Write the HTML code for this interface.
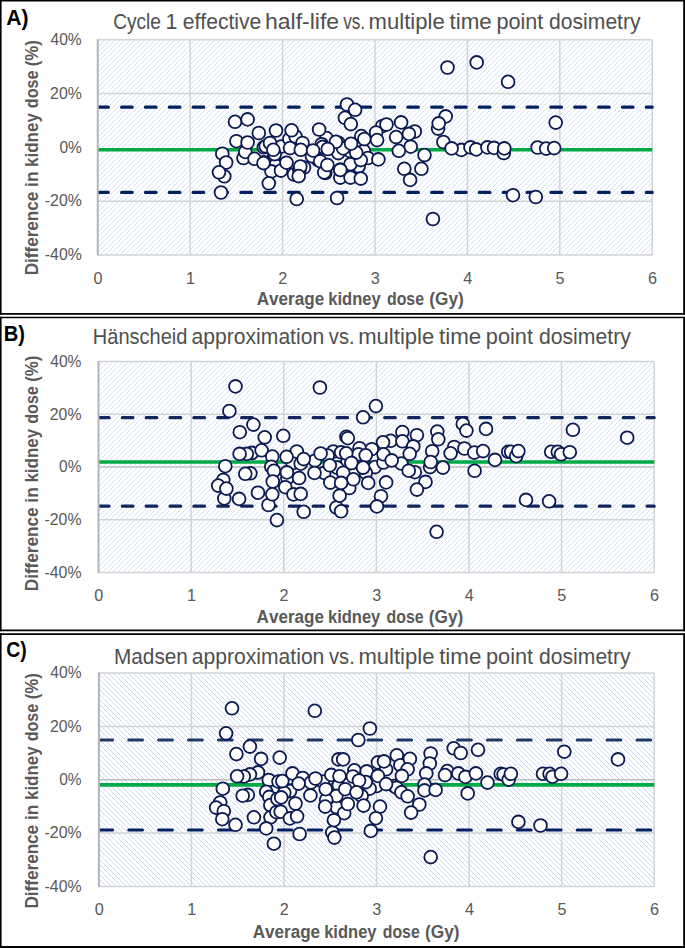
<!DOCTYPE html><html><head><meta charset="utf-8"><style>html,body{margin:0;padding:0;background:#fff;}svg{display:block;}</style></head><body>
<svg width="685" height="948" viewBox="0 0 685 948">
<defs>
<pattern id="hatchUp" patternUnits="userSpaceOnUse" width="5" height="5"><path d="M-1,1 L1,-1 M0,5 L5,0 M4,6 L6,4" stroke="#d3e2f5" stroke-width="1"/></pattern>
<pattern id="hatchDown" patternUnits="userSpaceOnUse" width="5" height="5"><path d="M-1,4 L1,6 M0,0 L5,5 M4,-1 L6,1" stroke="#ccdaf2" stroke-width="1"/></pattern>
</defs>
<rect x="0" y="0" width="685" height="948" fill="#fff"/>
<rect x="97.75" y="39.75" width="554.5" height="215.25" fill="url(#hatchUp)"/>
<line x1="97.75" y1="39.75" x2="652.25" y2="39.75" stroke="#d3d3d3" stroke-width="1.5"/>
<line x1="97.75" y1="93.56" x2="652.25" y2="93.56" stroke="#d3d3d3" stroke-width="1.5"/>
<line x1="97.75" y1="201.19" x2="652.25" y2="201.19" stroke="#d3d3d3" stroke-width="1.5"/>
<line x1="97.75" y1="255" x2="652.25" y2="255" stroke="#d3d3d3" stroke-width="1.5"/>
<line x1="190.17" y1="39.75" x2="190.17" y2="255" stroke="#d3d3d3" stroke-width="1.5"/>
<line x1="282.58" y1="39.75" x2="282.58" y2="255" stroke="#d3d3d3" stroke-width="1.5"/>
<line x1="375" y1="39.75" x2="375" y2="255" stroke="#d3d3d3" stroke-width="1.5"/>
<line x1="467.42" y1="39.75" x2="467.42" y2="255" stroke="#d3d3d3" stroke-width="1.5"/>
<line x1="559.83" y1="39.75" x2="559.83" y2="255" stroke="#d3d3d3" stroke-width="1.5"/>
<line x1="652.25" y1="39.75" x2="652.25" y2="255" stroke="#d3d3d3" stroke-width="1.5"/>
<line x1="97.75" y1="149.1" x2="652.25" y2="149.1" stroke="#bfbfbf" stroke-width="1.6"/>
<clipPath id="clipA"><rect x="97.35" y="19.75" width="557" height="255.25"/></clipPath>
<g clip-path="url(#clipA)">
<line x1="97.75" y1="107.2" x2="652.25" y2="107.2" stroke="#002060" stroke-width="3.2" stroke-dasharray="10.6 13.25" stroke-linecap="round"/>
<line x1="97.75" y1="192.4" x2="652.25" y2="192.4" stroke="#002060" stroke-width="3.2" stroke-dasharray="10.6 13.25" stroke-linecap="round"/>
<line x1="97.75" y1="149.7" x2="652.25" y2="149.7" stroke="#00ab47" stroke-width="3.6"/>
</g>
<line x1="97.75" y1="39.25" x2="97.75" y2="255.5" stroke="#b5b5b5" stroke-width="2"/>
<circle cx="243.5" cy="158" r="6.4" fill="#fff" stroke="#0b1a52" stroke-width="1.8"/>
<circle cx="245.3" cy="151.9" r="6.4" fill="#fff" stroke="#0b1a52" stroke-width="1.8"/>
<circle cx="281.3" cy="146.5" r="6.4" fill="#fff" stroke="#0b1a52" stroke-width="1.8"/>
<circle cx="273.7" cy="157.8" r="6.4" fill="#fff" stroke="#0b1a52" stroke-width="1.8"/>
<circle cx="263.8" cy="147.3" r="6.4" fill="#fff" stroke="#0b1a52" stroke-width="1.8"/>
<circle cx="265.7" cy="146.3" r="6.4" fill="#fff" stroke="#0b1a52" stroke-width="1.8"/>
<circle cx="224.3" cy="176.3" r="6.4" fill="#fff" stroke="#0b1a52" stroke-width="1.8"/>
<circle cx="221" cy="192.5" r="6.4" fill="#fff" stroke="#0b1a52" stroke-width="1.8"/>
<circle cx="275.3" cy="165.5" r="6.4" fill="#fff" stroke="#0b1a52" stroke-width="1.8"/>
<circle cx="271.5" cy="171.4" r="6.4" fill="#fff" stroke="#0b1a52" stroke-width="1.8"/>
<circle cx="289.4" cy="139" r="6.4" fill="#fff" stroke="#0b1a52" stroke-width="1.8"/>
<circle cx="295.5" cy="136.5" r="6.4" fill="#fff" stroke="#0b1a52" stroke-width="1.8"/>
<circle cx="302.5" cy="143" r="6.4" fill="#fff" stroke="#0b1a52" stroke-width="1.8"/>
<circle cx="326.5" cy="138.1" r="6.4" fill="#fff" stroke="#0b1a52" stroke-width="1.8"/>
<circle cx="321.7" cy="144.2" r="6.4" fill="#fff" stroke="#0b1a52" stroke-width="1.8"/>
<circle cx="304" cy="167.5" r="6.4" fill="#fff" stroke="#0b1a52" stroke-width="1.8"/>
<circle cx="318.1" cy="160.1" r="6.4" fill="#fff" stroke="#0b1a52" stroke-width="1.8"/>
<circle cx="312" cy="156.2" r="6.4" fill="#fff" stroke="#0b1a52" stroke-width="1.8"/>
<circle cx="296.7" cy="199" r="6.4" fill="#fff" stroke="#0b1a52" stroke-width="1.8"/>
<circle cx="281" cy="170.6" r="6.4" fill="#fff" stroke="#0b1a52" stroke-width="1.8"/>
<circle cx="294" cy="174.5" r="6.4" fill="#fff" stroke="#0b1a52" stroke-width="1.8"/>
<circle cx="325.3" cy="173" r="6.4" fill="#fff" stroke="#0b1a52" stroke-width="1.8"/>
<circle cx="320.2" cy="161.2" r="6.4" fill="#fff" stroke="#0b1a52" stroke-width="1.8"/>
<circle cx="349.5" cy="168.9" r="6.4" fill="#fff" stroke="#0b1a52" stroke-width="1.8"/>
<circle cx="340.3" cy="177.6" r="6.4" fill="#fff" stroke="#0b1a52" stroke-width="1.8"/>
<circle cx="350.5" cy="177.6" r="6.4" fill="#fff" stroke="#0b1a52" stroke-width="1.8"/>
<circle cx="358.7" cy="166.3" r="6.4" fill="#fff" stroke="#0b1a52" stroke-width="1.8"/>
<circle cx="347" cy="104.5" r="6.4" fill="#fff" stroke="#0b1a52" stroke-width="1.8"/>
<circle cx="355.1" cy="109.8" r="6.4" fill="#fff" stroke="#0b1a52" stroke-width="1.8"/>
<circle cx="344.9" cy="117.8" r="6.4" fill="#fff" stroke="#0b1a52" stroke-width="1.8"/>
<circle cx="382.2" cy="126.2" r="6.4" fill="#fff" stroke="#0b1a52" stroke-width="1.8"/>
<circle cx="361.3" cy="136.1" r="6.4" fill="#fff" stroke="#0b1a52" stroke-width="1.8"/>
<circle cx="376.1" cy="132.5" r="6.4" fill="#fff" stroke="#0b1a52" stroke-width="1.8"/>
<circle cx="337.3" cy="149.9" r="6.4" fill="#fff" stroke="#0b1a52" stroke-width="1.8"/>
<circle cx="338.3" cy="142.7" r="6.4" fill="#fff" stroke="#0b1a52" stroke-width="1.8"/>
<circle cx="349.5" cy="150.9" r="6.4" fill="#fff" stroke="#0b1a52" stroke-width="1.8"/>
<circle cx="363.8" cy="150.9" r="6.4" fill="#fff" stroke="#0b1a52" stroke-width="1.8"/>
<circle cx="367.9" cy="158" r="6.4" fill="#fff" stroke="#0b1a52" stroke-width="1.8"/>
<circle cx="350.5" cy="164.2" r="6.4" fill="#fff" stroke="#0b1a52" stroke-width="1.8"/>
<circle cx="360.8" cy="160.1" r="6.4" fill="#fff" stroke="#0b1a52" stroke-width="1.8"/>
<circle cx="338.3" cy="153.1" r="6.4" fill="#fff" stroke="#0b1a52" stroke-width="1.8"/>
<circle cx="414.8" cy="131.5" r="6.4" fill="#fff" stroke="#0b1a52" stroke-width="1.8"/>
<circle cx="404.3" cy="168.8" r="6.4" fill="#fff" stroke="#0b1a52" stroke-width="1.8"/>
<circle cx="421.4" cy="168.8" r="6.4" fill="#fff" stroke="#0b1a52" stroke-width="1.8"/>
<circle cx="410.1" cy="179.9" r="6.4" fill="#fff" stroke="#0b1a52" stroke-width="1.8"/>
<circle cx="432.9" cy="219" r="6.4" fill="#fff" stroke="#0b1a52" stroke-width="1.8"/>
<circle cx="445.7" cy="116.4" r="6.4" fill="#fff" stroke="#0b1a52" stroke-width="1.8"/>
<circle cx="438.1" cy="128.6" r="6.4" fill="#fff" stroke="#0b1a52" stroke-width="1.8"/>
<circle cx="461.4" cy="149.9" r="6.4" fill="#fff" stroke="#0b1a52" stroke-width="1.8"/>
<circle cx="470.5" cy="147.4" r="6.4" fill="#fff" stroke="#0b1a52" stroke-width="1.8"/>
<circle cx="476.2" cy="149.4" r="6.4" fill="#fff" stroke="#0b1a52" stroke-width="1.8"/>
<circle cx="487.4" cy="147.4" r="6.4" fill="#fff" stroke="#0b1a52" stroke-width="1.8"/>
<circle cx="494" cy="147.9" r="6.4" fill="#fff" stroke="#0b1a52" stroke-width="1.8"/>
<circle cx="503.8" cy="153" r="6.4" fill="#fff" stroke="#0b1a52" stroke-width="1.8"/>
<circle cx="504.3" cy="148.4" r="6.4" fill="#fff" stroke="#0b1a52" stroke-width="1.8"/>
<circle cx="537.6" cy="147.5" r="6.4" fill="#fff" stroke="#0b1a52" stroke-width="1.8"/>
<circle cx="546.2" cy="148.6" r="6.4" fill="#fff" stroke="#0b1a52" stroke-width="1.8"/>
<circle cx="554.2" cy="148.1" r="6.4" fill="#fff" stroke="#0b1a52" stroke-width="1.8"/>
<circle cx="555.7" cy="122.6" r="6.4" fill="#fff" stroke="#0b1a52" stroke-width="1.8"/>
<circle cx="513" cy="195.2" r="6.4" fill="#fff" stroke="#0b1a52" stroke-width="1.8"/>
<circle cx="535.8" cy="197" r="6.4" fill="#fff" stroke="#0b1a52" stroke-width="1.8"/>
<circle cx="447.5" cy="67.5" r="6.4" fill="#fff" stroke="#0b1a52" stroke-width="1.8"/>
<circle cx="476.7" cy="62.4" r="6.4" fill="#fff" stroke="#0b1a52" stroke-width="1.8"/>
<circle cx="508.1" cy="81.8" r="6.4" fill="#fff" stroke="#0b1a52" stroke-width="1.8"/>
<circle cx="343.2" cy="148.4" r="6.4" fill="#fff" stroke="#0b1a52" stroke-width="1.8"/>
<circle cx="335.9" cy="141.8" r="6.4" fill="#fff" stroke="#0b1a52" stroke-width="1.8"/>
<circle cx="322.7" cy="146.9" r="6.4" fill="#fff" stroke="#0b1a52" stroke-width="1.8"/>
<circle cx="299.4" cy="170.3" r="6.4" fill="#fff" stroke="#0b1a52" stroke-width="1.8"/>
<circle cx="324.2" cy="172.4" r="6.4" fill="#fff" stroke="#0b1a52" stroke-width="1.8"/>
<circle cx="274.7" cy="154.1" r="6.4" fill="#fff" stroke="#0b1a52" stroke-width="1.8"/>
<circle cx="300.3" cy="166.5" r="6.4" fill="#fff" stroke="#0b1a52" stroke-width="1.8"/>
<circle cx="235" cy="121.8" r="6.4" fill="#fff" stroke="#0b1a52" stroke-width="1.8"/>
<circle cx="247.6" cy="119.4" r="6.4" fill="#fff" stroke="#0b1a52" stroke-width="1.8"/>
<circle cx="258.8" cy="133" r="6.4" fill="#fff" stroke="#0b1a52" stroke-width="1.8"/>
<circle cx="276" cy="130.5" r="6.4" fill="#fff" stroke="#0b1a52" stroke-width="1.8"/>
<circle cx="236.4" cy="141.2" r="6.4" fill="#fff" stroke="#0b1a52" stroke-width="1.8"/>
<circle cx="247.6" cy="142.5" r="6.4" fill="#fff" stroke="#0b1a52" stroke-width="1.8"/>
<circle cx="222.3" cy="153.7" r="6.4" fill="#fff" stroke="#0b1a52" stroke-width="1.8"/>
<circle cx="226.1" cy="162.5" r="6.4" fill="#fff" stroke="#0b1a52" stroke-width="1.8"/>
<circle cx="263.6" cy="162.4" r="6.4" fill="#fff" stroke="#0b1a52" stroke-width="1.8"/>
<circle cx="254.5" cy="158.8" r="6.4" fill="#fff" stroke="#0b1a52" stroke-width="1.8"/>
<circle cx="270" cy="143" r="6.4" fill="#fff" stroke="#0b1a52" stroke-width="1.8"/>
<circle cx="273.3" cy="149.8" r="6.4" fill="#fff" stroke="#0b1a52" stroke-width="1.8"/>
<circle cx="291.6" cy="130.3" r="6.4" fill="#fff" stroke="#0b1a52" stroke-width="1.8"/>
<circle cx="319.1" cy="129.5" r="6.4" fill="#fff" stroke="#0b1a52" stroke-width="1.8"/>
<circle cx="290" cy="148.1" r="6.4" fill="#fff" stroke="#0b1a52" stroke-width="1.8"/>
<circle cx="300.8" cy="149.8" r="6.4" fill="#fff" stroke="#0b1a52" stroke-width="1.8"/>
<circle cx="313.1" cy="150.5" r="6.4" fill="#fff" stroke="#0b1a52" stroke-width="1.8"/>
<circle cx="327.8" cy="149" r="6.4" fill="#fff" stroke="#0b1a52" stroke-width="1.8"/>
<circle cx="286.5" cy="162.7" r="6.4" fill="#fff" stroke="#0b1a52" stroke-width="1.8"/>
<circle cx="263.5" cy="163.1" r="6.4" fill="#fff" stroke="#0b1a52" stroke-width="1.8"/>
<circle cx="298.7" cy="176.1" r="6.4" fill="#fff" stroke="#0b1a52" stroke-width="1.8"/>
<circle cx="327.4" cy="165" r="6.4" fill="#fff" stroke="#0b1a52" stroke-width="1.8"/>
<circle cx="340.3" cy="169.9" r="6.4" fill="#fff" stroke="#0b1a52" stroke-width="1.8"/>
<circle cx="268.8" cy="183.3" r="6.4" fill="#fff" stroke="#0b1a52" stroke-width="1.8"/>
<circle cx="350.8" cy="124.1" r="6.4" fill="#fff" stroke="#0b1a52" stroke-width="1.8"/>
<circle cx="386.5" cy="124.5" r="6.4" fill="#fff" stroke="#0b1a52" stroke-width="1.8"/>
<circle cx="364.3" cy="139.1" r="6.4" fill="#fff" stroke="#0b1a52" stroke-width="1.8"/>
<circle cx="377.1" cy="140.1" r="6.4" fill="#fff" stroke="#0b1a52" stroke-width="1.8"/>
<circle cx="356.2" cy="152.6" r="6.4" fill="#fff" stroke="#0b1a52" stroke-width="1.8"/>
<circle cx="378.4" cy="159.4" r="6.4" fill="#fff" stroke="#0b1a52" stroke-width="1.8"/>
<circle cx="351.1" cy="143.7" r="6.4" fill="#fff" stroke="#0b1a52" stroke-width="1.8"/>
<circle cx="337.1" cy="198" r="6.4" fill="#fff" stroke="#0b1a52" stroke-width="1.8"/>
<circle cx="340.3" cy="169.9" r="6.4" fill="#fff" stroke="#0b1a52" stroke-width="1.8"/>
<circle cx="360.8" cy="178.6" r="6.4" fill="#fff" stroke="#0b1a52" stroke-width="1.8"/>
<circle cx="401.1" cy="122.4" r="6.4" fill="#fff" stroke="#0b1a52" stroke-width="1.8"/>
<circle cx="408.9" cy="133.9" r="6.4" fill="#fff" stroke="#0b1a52" stroke-width="1.8"/>
<circle cx="396.1" cy="137.1" r="6.4" fill="#fff" stroke="#0b1a52" stroke-width="1.8"/>
<circle cx="410.7" cy="146.7" r="6.4" fill="#fff" stroke="#0b1a52" stroke-width="1.8"/>
<circle cx="398.8" cy="150.8" r="6.4" fill="#fff" stroke="#0b1a52" stroke-width="1.8"/>
<circle cx="424.5" cy="155.1" r="6.4" fill="#fff" stroke="#0b1a52" stroke-width="1.8"/>
<circle cx="438.7" cy="123.4" r="6.4" fill="#fff" stroke="#0b1a52" stroke-width="1.8"/>
<circle cx="443.4" cy="142" r="6.4" fill="#fff" stroke="#0b1a52" stroke-width="1.8"/>
<circle cx="451.6" cy="148.4" r="6.4" fill="#fff" stroke="#0b1a52" stroke-width="1.8"/>
<circle cx="219" cy="172.3" r="6.4" fill="#fff" stroke="#0b1a52" stroke-width="1.8"/>
<text x="50.54" y="45.05" font-family='"Liberation Sans", sans-serif' font-size="16.2" fill="#595959" textLength="31.21" lengthAdjust="spacingAndGlyphs" style="font-kerning:none">40%</text>
<text x="50.1" y="98.86" font-family='"Liberation Sans", sans-serif' font-size="16.2" fill="#595959" textLength="31.66" lengthAdjust="spacingAndGlyphs" style="font-kerning:none">20%</text>
<text x="59.4" y="152.68" font-family='"Liberation Sans", sans-serif' font-size="16.2" fill="#595959" textLength="22.36" lengthAdjust="spacingAndGlyphs" style="font-kerning:none">0%</text>
<text x="44.8" y="206.49" font-family='"Liberation Sans", sans-serif' font-size="16.2" fill="#595959" textLength="36.97" lengthAdjust="spacingAndGlyphs" style="font-kerning:none">-20%</text>
<text x="44.8" y="260.3" font-family='"Liberation Sans", sans-serif' font-size="16.2" fill="#595959" textLength="36.97" lengthAdjust="spacingAndGlyphs" style="font-kerning:none">-40%</text>
<text x="98.05" y="283.6" font-family='"Liberation Sans", sans-serif' font-size="16.2" fill="#595959" text-anchor="middle" style="font-kerning:none">0</text>
<text x="190.47" y="283.6" font-family='"Liberation Sans", sans-serif' font-size="16.2" fill="#595959" text-anchor="middle" style="font-kerning:none">1</text>
<text x="282.88" y="283.6" font-family='"Liberation Sans", sans-serif' font-size="16.2" fill="#595959" text-anchor="middle" style="font-kerning:none">2</text>
<text x="375.3" y="283.6" font-family='"Liberation Sans", sans-serif' font-size="16.2" fill="#595959" text-anchor="middle" style="font-kerning:none">3</text>
<text x="467.72" y="283.6" font-family='"Liberation Sans", sans-serif' font-size="16.2" fill="#595959" text-anchor="middle" style="font-kerning:none">4</text>
<text x="560.13" y="283.6" font-family='"Liberation Sans", sans-serif' font-size="16.2" fill="#595959" text-anchor="middle" style="font-kerning:none">5</text>
<text x="652.55" y="283.6" font-family='"Liberation Sans", sans-serif' font-size="16.2" fill="#595959" text-anchor="middle" style="font-kerning:none">6</text>
<text x="113.13" y="28.6" font-family='"Liberation Sans", sans-serif' font-size="21.4" fill="#4f4f4f" textLength="47.82" lengthAdjust="spacingAndGlyphs" style="font-kerning:none">Cycle</text>
<text x="165.57" y="28.6" font-family='"Liberation Sans", sans-serif' font-size="21.4" fill="#4f4f4f" textLength="11.87" lengthAdjust="spacingAndGlyphs" style="font-kerning:none">1</text>
<text x="182.7" y="28.6" font-family='"Liberation Sans", sans-serif' font-size="21.4" fill="#4f4f4f" textLength="78.64" lengthAdjust="spacingAndGlyphs" style="font-kerning:none">effective</text>
<text x="265.01" y="28.6" font-family='"Liberation Sans", sans-serif' font-size="21.4" fill="#4f4f4f" textLength="74.12" lengthAdjust="spacingAndGlyphs" style="font-kerning:none">half-life</text>
<text x="343.14" y="28.6" font-family='"Liberation Sans", sans-serif' font-size="21.4" fill="#4f4f4f" textLength="22.03" lengthAdjust="spacingAndGlyphs" style="font-kerning:none">vs.</text>
<text x="368.63" y="28.6" font-family='"Liberation Sans", sans-serif' font-size="21.4" fill="#4f4f4f" textLength="76.05" lengthAdjust="spacingAndGlyphs" style="font-kerning:none">multiple</text>
<text x="449.56" y="28.6" font-family='"Liberation Sans", sans-serif' font-size="21.4" fill="#4f4f4f" textLength="42.23" lengthAdjust="spacingAndGlyphs" style="font-kerning:none">time</text>
<text x="496.4" y="28.6" font-family='"Liberation Sans", sans-serif' font-size="21.4" fill="#4f4f4f" textLength="46.95" lengthAdjust="spacingAndGlyphs" style="font-kerning:none">point</text>
<text x="549.11" y="28.6" font-family='"Liberation Sans", sans-serif' font-size="21.4" fill="#4f4f4f" textLength="91.43" lengthAdjust="spacingAndGlyphs" style="font-kerning:none">dosimetry</text>
<text x="256.77" y="305.1" font-family='"Liberation Sans", sans-serif' font-size="18.0" font-weight="bold" fill="#595959" textLength="67.45" lengthAdjust="spacingAndGlyphs" style="font-kerning:none">Average</text>
<text x="328.26" y="305.1" font-family='"Liberation Sans", sans-serif' font-size="18.0" font-weight="bold" fill="#595959" textLength="52.45" lengthAdjust="spacingAndGlyphs" style="font-kerning:none">kidney</text>
<text x="386.94" y="305.1" font-family='"Liberation Sans", sans-serif' font-size="18.0" font-weight="bold" fill="#595959" textLength="37.05" lengthAdjust="spacingAndGlyphs" style="font-kerning:none">dose</text>
<text x="429.27" y="305.1" font-family='"Liberation Sans", sans-serif' font-size="18.0" font-weight="bold" fill="#595959" textLength="34.49" lengthAdjust="spacingAndGlyphs" style="font-kerning:none">(Gy)</text>
<text transform="translate(37.8,274.2) rotate(-90)" x="-1.14" y="0" font-family='"Liberation Sans", sans-serif' font-size="18.0" font-weight="bold" fill="#595959" textLength="83.63" lengthAdjust="spacingAndGlyphs" style="font-kerning:none">Difference</text>
<text transform="translate(37.8,274.2) rotate(-90)" x="87.28" y="0" font-family='"Liberation Sans", sans-serif' font-size="18.0" font-weight="bold" fill="#595959" textLength="15.5" lengthAdjust="spacingAndGlyphs" style="font-kerning:none">in</text>
<text transform="translate(37.8,274.2) rotate(-90)" x="107.31" y="0" font-family='"Liberation Sans", sans-serif' font-size="18.0" font-weight="bold" fill="#595959" textLength="53.78" lengthAdjust="spacingAndGlyphs" style="font-kerning:none">kidney</text>
<text transform="translate(37.8,274.2) rotate(-90)" x="166.04" y="0" font-family='"Liberation Sans", sans-serif' font-size="18.0" font-weight="bold" fill="#595959" textLength="37.51" lengthAdjust="spacingAndGlyphs" style="font-kerning:none">dose</text>
<text transform="translate(37.8,274.2) rotate(-90)" x="207.96" y="0" font-family='"Liberation Sans", sans-serif' font-size="18.0" font-weight="bold" fill="#595959" textLength="26.18" lengthAdjust="spacingAndGlyphs" style="font-kerning:none">(%)</text>
<text x="6.17" y="24.5" font-family='"Liberation Sans", sans-serif' font-size="22.3" font-weight="bold" fill="#000" textLength="22.28" lengthAdjust="spacingAndGlyphs" style="font-kerning:none">A)</text>
<rect x="98.5" y="361.5" width="555.7" height="211" fill="url(#hatchUp)"/>
<line x1="98.5" y1="361.5" x2="654.2" y2="361.5" stroke="#d3d3d3" stroke-width="1.5"/>
<line x1="98.5" y1="414.25" x2="654.2" y2="414.25" stroke="#d3d3d3" stroke-width="1.5"/>
<line x1="98.5" y1="519.75" x2="654.2" y2="519.75" stroke="#d3d3d3" stroke-width="1.5"/>
<line x1="98.5" y1="572.5" x2="654.2" y2="572.5" stroke="#d3d3d3" stroke-width="1.5"/>
<line x1="191.12" y1="361.5" x2="191.12" y2="572.5" stroke="#d3d3d3" stroke-width="1.5"/>
<line x1="283.73" y1="361.5" x2="283.73" y2="572.5" stroke="#d3d3d3" stroke-width="1.5"/>
<line x1="376.35" y1="361.5" x2="376.35" y2="572.5" stroke="#d3d3d3" stroke-width="1.5"/>
<line x1="468.97" y1="361.5" x2="468.97" y2="572.5" stroke="#d3d3d3" stroke-width="1.5"/>
<line x1="561.58" y1="361.5" x2="561.58" y2="572.5" stroke="#d3d3d3" stroke-width="1.5"/>
<line x1="654.2" y1="361.5" x2="654.2" y2="572.5" stroke="#d3d3d3" stroke-width="1.5"/>
<line x1="98.5" y1="467" x2="654.2" y2="467" stroke="#bfbfbf" stroke-width="1.6"/>
<clipPath id="clipB"><rect x="98.1" y="341.5" width="558.2" height="251"/></clipPath>
<g clip-path="url(#clipB)">
<line x1="98.5" y1="417.7" x2="654.2" y2="417.7" stroke="#10275e" stroke-width="3.2" stroke-dasharray="10.6 13.25" stroke-linecap="round"/>
<line x1="98.5" y1="506.2" x2="654.2" y2="506.2" stroke="#10275e" stroke-width="3.2" stroke-dasharray="10.6 13.25" stroke-linecap="round"/>
<line x1="98.5" y1="462" x2="654.2" y2="462" stroke="#00ab47" stroke-width="3.6"/>
</g>
<line x1="98.5" y1="361" x2="98.5" y2="573" stroke="#b5b5b5" stroke-width="2"/>
<circle cx="251.9" cy="452.9" r="6.4" fill="#fff" stroke="#0b1a52" stroke-width="1.8"/>
<circle cx="246.8" cy="453.9" r="6.4" fill="#fff" stroke="#0b1a52" stroke-width="1.8"/>
<circle cx="292.5" cy="463" r="6.4" fill="#fff" stroke="#0b1a52" stroke-width="1.8"/>
<circle cx="357" cy="461" r="6.4" fill="#fff" stroke="#0b1a52" stroke-width="1.8"/>
<circle cx="375.5" cy="458.5" r="6.4" fill="#fff" stroke="#0b1a52" stroke-width="1.8"/>
<circle cx="347.5" cy="462" r="6.4" fill="#fff" stroke="#0b1a52" stroke-width="1.8"/>
<circle cx="374.9" cy="467.1" r="6.4" fill="#fff" stroke="#0b1a52" stroke-width="1.8"/>
<circle cx="383.5" cy="462.5" r="6.4" fill="#fff" stroke="#0b1a52" stroke-width="1.8"/>
<circle cx="235.5" cy="386.4" r="6.4" fill="#fff" stroke="#0b1a52" stroke-width="1.8"/>
<circle cx="229.4" cy="411" r="6.4" fill="#fff" stroke="#0b1a52" stroke-width="1.8"/>
<circle cx="253.4" cy="424.6" r="6.4" fill="#fff" stroke="#0b1a52" stroke-width="1.8"/>
<circle cx="239.8" cy="432.2" r="6.4" fill="#fff" stroke="#0b1a52" stroke-width="1.8"/>
<circle cx="264.7" cy="437.3" r="6.4" fill="#fff" stroke="#0b1a52" stroke-width="1.8"/>
<circle cx="261.6" cy="450.3" r="6.4" fill="#fff" stroke="#0b1a52" stroke-width="1.8"/>
<circle cx="250.4" cy="473.3" r="6.4" fill="#fff" stroke="#0b1a52" stroke-width="1.8"/>
<circle cx="272.3" cy="456.5" r="6.4" fill="#fff" stroke="#0b1a52" stroke-width="1.8"/>
<circle cx="271.3" cy="466.7" r="6.4" fill="#fff" stroke="#0b1a52" stroke-width="1.8"/>
<circle cx="273.9" cy="470.8" r="6.4" fill="#fff" stroke="#0b1a52" stroke-width="1.8"/>
<circle cx="272.8" cy="481.5" r="6.4" fill="#fff" stroke="#0b1a52" stroke-width="1.8"/>
<circle cx="223.3" cy="480" r="6.4" fill="#fff" stroke="#0b1a52" stroke-width="1.8"/>
<circle cx="218.2" cy="485.6" r="6.4" fill="#fff" stroke="#0b1a52" stroke-width="1.8"/>
<circle cx="224.3" cy="498.4" r="6.4" fill="#fff" stroke="#0b1a52" stroke-width="1.8"/>
<circle cx="268.5" cy="505" r="6.4" fill="#fff" stroke="#0b1a52" stroke-width="1.8"/>
<circle cx="276.9" cy="520.1" r="6.4" fill="#fff" stroke="#0b1a52" stroke-width="1.8"/>
<circle cx="319.9" cy="387.5" r="6.4" fill="#fff" stroke="#0b1a52" stroke-width="1.8"/>
<circle cx="296.8" cy="451.5" r="6.4" fill="#fff" stroke="#0b1a52" stroke-width="1.8"/>
<circle cx="300.7" cy="463.7" r="6.4" fill="#fff" stroke="#0b1a52" stroke-width="1.8"/>
<circle cx="315" cy="460.7" r="6.4" fill="#fff" stroke="#0b1a52" stroke-width="1.8"/>
<circle cx="333.4" cy="451.5" r="6.4" fill="#fff" stroke="#0b1a52" stroke-width="1.8"/>
<circle cx="327.7" cy="455.5" r="6.4" fill="#fff" stroke="#0b1a52" stroke-width="1.8"/>
<circle cx="287.4" cy="478" r="6.4" fill="#fff" stroke="#0b1a52" stroke-width="1.8"/>
<circle cx="324.2" cy="472.9" r="6.4" fill="#fff" stroke="#0b1a52" stroke-width="1.8"/>
<circle cx="285.3" cy="487.2" r="6.4" fill="#fff" stroke="#0b1a52" stroke-width="1.8"/>
<circle cx="293.5" cy="494.4" r="6.4" fill="#fff" stroke="#0b1a52" stroke-width="1.8"/>
<circle cx="303.7" cy="511.8" r="6.4" fill="#fff" stroke="#0b1a52" stroke-width="1.8"/>
<circle cx="336.4" cy="507.5" r="6.4" fill="#fff" stroke="#0b1a52" stroke-width="1.8"/>
<circle cx="375.9" cy="406.1" r="6.4" fill="#fff" stroke="#0b1a52" stroke-width="1.8"/>
<circle cx="363.1" cy="417.3" r="6.4" fill="#fff" stroke="#0b1a52" stroke-width="1.8"/>
<circle cx="346.4" cy="436.7" r="6.4" fill="#fff" stroke="#0b1a52" stroke-width="1.8"/>
<circle cx="347.8" cy="438.2" r="6.4" fill="#fff" stroke="#0b1a52" stroke-width="1.8"/>
<circle cx="390.7" cy="440.8" r="6.4" fill="#fff" stroke="#0b1a52" stroke-width="1.8"/>
<circle cx="402.4" cy="432.1" r="6.4" fill="#fff" stroke="#0b1a52" stroke-width="1.8"/>
<circle cx="383" cy="442.3" r="6.4" fill="#fff" stroke="#0b1a52" stroke-width="1.8"/>
<circle cx="402.4" cy="441.3" r="6.4" fill="#fff" stroke="#0b1a52" stroke-width="1.8"/>
<circle cx="341.1" cy="452.3" r="6.4" fill="#fff" stroke="#0b1a52" stroke-width="1.8"/>
<circle cx="359.5" cy="448.2" r="6.4" fill="#fff" stroke="#0b1a52" stroke-width="1.8"/>
<circle cx="358.5" cy="454.3" r="6.4" fill="#fff" stroke="#0b1a52" stroke-width="1.8"/>
<circle cx="371.8" cy="449.2" r="6.4" fill="#fff" stroke="#0b1a52" stroke-width="1.8"/>
<circle cx="365.7" cy="472.7" r="6.4" fill="#fff" stroke="#0b1a52" stroke-width="1.8"/>
<circle cx="349.3" cy="488" r="6.4" fill="#fff" stroke="#0b1a52" stroke-width="1.8"/>
<circle cx="401.4" cy="463.5" r="6.4" fill="#fff" stroke="#0b1a52" stroke-width="1.8"/>
<circle cx="337" cy="467.6" r="6.4" fill="#fff" stroke="#0b1a52" stroke-width="1.8"/>
<circle cx="341.1" cy="511.3" r="6.4" fill="#fff" stroke="#0b1a52" stroke-width="1.8"/>
<circle cx="416.9" cy="435.2" r="6.4" fill="#fff" stroke="#0b1a52" stroke-width="1.8"/>
<circle cx="437.3" cy="431.6" r="6.4" fill="#fff" stroke="#0b1a52" stroke-width="1.8"/>
<circle cx="438.3" cy="439.3" r="6.4" fill="#fff" stroke="#0b1a52" stroke-width="1.8"/>
<circle cx="462.8" cy="423.9" r="6.4" fill="#fff" stroke="#0b1a52" stroke-width="1.8"/>
<circle cx="466.4" cy="430.6" r="6.4" fill="#fff" stroke="#0b1a52" stroke-width="1.8"/>
<circle cx="413.3" cy="446.4" r="6.4" fill="#fff" stroke="#0b1a52" stroke-width="1.8"/>
<circle cx="432.2" cy="451.2" r="6.4" fill="#fff" stroke="#0b1a52" stroke-width="1.8"/>
<circle cx="454.2" cy="447" r="6.4" fill="#fff" stroke="#0b1a52" stroke-width="1.8"/>
<circle cx="464.4" cy="448.5" r="6.4" fill="#fff" stroke="#0b1a52" stroke-width="1.8"/>
<circle cx="409.7" cy="453.8" r="6.4" fill="#fff" stroke="#0b1a52" stroke-width="1.8"/>
<circle cx="450.6" cy="453.3" r="6.4" fill="#fff" stroke="#0b1a52" stroke-width="1.8"/>
<circle cx="430.1" cy="467.1" r="6.4" fill="#fff" stroke="#0b1a52" stroke-width="1.8"/>
<circle cx="442.9" cy="467.6" r="6.4" fill="#fff" stroke="#0b1a52" stroke-width="1.8"/>
<circle cx="414.8" cy="472.2" r="6.4" fill="#fff" stroke="#0b1a52" stroke-width="1.8"/>
<circle cx="425.5" cy="481.9" r="6.4" fill="#fff" stroke="#0b1a52" stroke-width="1.8"/>
<circle cx="416.9" cy="489.6" r="6.4" fill="#fff" stroke="#0b1a52" stroke-width="1.8"/>
<circle cx="486" cy="428.9" r="6.4" fill="#fff" stroke="#0b1a52" stroke-width="1.8"/>
<circle cx="474.3" cy="452.6" r="6.4" fill="#fff" stroke="#0b1a52" stroke-width="1.8"/>
<circle cx="483.1" cy="451.1" r="6.4" fill="#fff" stroke="#0b1a52" stroke-width="1.8"/>
<circle cx="495" cy="459.9" r="6.4" fill="#fff" stroke="#0b1a52" stroke-width="1.8"/>
<circle cx="474.6" cy="470.8" r="6.4" fill="#fff" stroke="#0b1a52" stroke-width="1.8"/>
<circle cx="508.2" cy="451.8" r="6.4" fill="#fff" stroke="#0b1a52" stroke-width="1.8"/>
<circle cx="511.1" cy="451.8" r="6.4" fill="#fff" stroke="#0b1a52" stroke-width="1.8"/>
<circle cx="516.2" cy="456.2" r="6.4" fill="#fff" stroke="#0b1a52" stroke-width="1.8"/>
<circle cx="518.4" cy="451.1" r="6.4" fill="#fff" stroke="#0b1a52" stroke-width="1.8"/>
<circle cx="551.2" cy="451.8" r="6.4" fill="#fff" stroke="#0b1a52" stroke-width="1.8"/>
<circle cx="557.8" cy="451.8" r="6.4" fill="#fff" stroke="#0b1a52" stroke-width="1.8"/>
<circle cx="572.9" cy="429.8" r="6.4" fill="#fff" stroke="#0b1a52" stroke-width="1.8"/>
<circle cx="627.2" cy="437.7" r="6.4" fill="#fff" stroke="#0b1a52" stroke-width="1.8"/>
<circle cx="561" cy="454.3" r="6.4" fill="#fff" stroke="#0b1a52" stroke-width="1.8"/>
<circle cx="569.8" cy="452.2" r="6.4" fill="#fff" stroke="#0b1a52" stroke-width="1.8"/>
<circle cx="549.1" cy="501.3" r="6.4" fill="#fff" stroke="#0b1a52" stroke-width="1.8"/>
<circle cx="526" cy="499.9" r="6.4" fill="#fff" stroke="#0b1a52" stroke-width="1.8"/>
<circle cx="436.6" cy="531.8" r="6.4" fill="#fff" stroke="#0b1a52" stroke-width="1.8"/>
<circle cx="283.3" cy="435.8" r="6.4" fill="#fff" stroke="#0b1a52" stroke-width="1.8"/>
<circle cx="286.6" cy="456.8" r="6.4" fill="#fff" stroke="#0b1a52" stroke-width="1.8"/>
<circle cx="320.6" cy="453.5" r="6.4" fill="#fff" stroke="#0b1a52" stroke-width="1.8"/>
<circle cx="329.8" cy="465.3" r="6.4" fill="#fff" stroke="#0b1a52" stroke-width="1.8"/>
<circle cx="286.9" cy="472.4" r="6.4" fill="#fff" stroke="#0b1a52" stroke-width="1.8"/>
<circle cx="299.1" cy="478" r="6.4" fill="#fff" stroke="#0b1a52" stroke-width="1.8"/>
<circle cx="314.5" cy="472.9" r="6.4" fill="#fff" stroke="#0b1a52" stroke-width="1.8"/>
<circle cx="330.3" cy="482.6" r="6.4" fill="#fff" stroke="#0b1a52" stroke-width="1.8"/>
<circle cx="300.7" cy="493.9" r="6.4" fill="#fff" stroke="#0b1a52" stroke-width="1.8"/>
<circle cx="383.5" cy="454.3" r="6.4" fill="#fff" stroke="#0b1a52" stroke-width="1.8"/>
<circle cx="391.7" cy="460.4" r="6.4" fill="#fff" stroke="#0b1a52" stroke-width="1.8"/>
<circle cx="351.4" cy="463" r="6.4" fill="#fff" stroke="#0b1a52" stroke-width="1.8"/>
<circle cx="363.1" cy="467.6" r="6.4" fill="#fff" stroke="#0b1a52" stroke-width="1.8"/>
<circle cx="343.2" cy="472.7" r="6.4" fill="#fff" stroke="#0b1a52" stroke-width="1.8"/>
<circle cx="353.4" cy="479.3" r="6.4" fill="#fff" stroke="#0b1a52" stroke-width="1.8"/>
<circle cx="341.1" cy="482.9" r="6.4" fill="#fff" stroke="#0b1a52" stroke-width="1.8"/>
<circle cx="368.2" cy="482.9" r="6.4" fill="#fff" stroke="#0b1a52" stroke-width="1.8"/>
<circle cx="386.1" cy="482.4" r="6.4" fill="#fff" stroke="#0b1a52" stroke-width="1.8"/>
<circle cx="381" cy="496.2" r="6.4" fill="#fff" stroke="#0b1a52" stroke-width="1.8"/>
<circle cx="376.9" cy="506.4" r="6.4" fill="#fff" stroke="#0b1a52" stroke-width="1.8"/>
<circle cx="339.6" cy="495.7" r="6.4" fill="#fff" stroke="#0b1a52" stroke-width="1.8"/>
<circle cx="239.6" cy="453.9" r="6.4" fill="#fff" stroke="#0b1a52" stroke-width="1.8"/>
<circle cx="225.3" cy="466.2" r="6.4" fill="#fff" stroke="#0b1a52" stroke-width="1.8"/>
<circle cx="245.3" cy="473.8" r="6.4" fill="#fff" stroke="#0b1a52" stroke-width="1.8"/>
<circle cx="226.4" cy="488.6" r="6.4" fill="#fff" stroke="#0b1a52" stroke-width="1.8"/>
<circle cx="239.1" cy="498.9" r="6.4" fill="#fff" stroke="#0b1a52" stroke-width="1.8"/>
<circle cx="258" cy="492.7" r="6.4" fill="#fff" stroke="#0b1a52" stroke-width="1.8"/>
<circle cx="272.3" cy="494.3" r="6.4" fill="#fff" stroke="#0b1a52" stroke-width="1.8"/>
<circle cx="303.7" cy="459.1" r="6.4" fill="#fff" stroke="#0b1a52" stroke-width="1.8"/>
<circle cx="430.7" cy="462" r="6.4" fill="#fff" stroke="#0b1a52" stroke-width="1.8"/>
<circle cx="408.7" cy="470.7" r="6.4" fill="#fff" stroke="#0b1a52" stroke-width="1.8"/>
<circle cx="365.7" cy="455.3" r="6.4" fill="#fff" stroke="#0b1a52" stroke-width="1.8"/>
<circle cx="346.2" cy="453.3" r="6.4" fill="#fff" stroke="#0b1a52" stroke-width="1.8"/>
<circle cx="351.4" cy="463" r="6.4" fill="#fff" stroke="#0b1a52" stroke-width="1.8"/>
<circle cx="363.1" cy="467.6" r="6.4" fill="#fff" stroke="#0b1a52" stroke-width="1.8"/>
<text x="50.24" y="366.8" font-family='"Liberation Sans", sans-serif' font-size="16.2" fill="#595959" textLength="31.21" lengthAdjust="spacingAndGlyphs" style="font-kerning:none">40%</text>
<text x="49.8" y="419.55" font-family='"Liberation Sans", sans-serif' font-size="16.2" fill="#595959" textLength="31.66" lengthAdjust="spacingAndGlyphs" style="font-kerning:none">20%</text>
<text x="59.1" y="472.3" font-family='"Liberation Sans", sans-serif' font-size="16.2" fill="#595959" textLength="22.36" lengthAdjust="spacingAndGlyphs" style="font-kerning:none">0%</text>
<text x="44.5" y="525.05" font-family='"Liberation Sans", sans-serif' font-size="16.2" fill="#595959" textLength="36.97" lengthAdjust="spacingAndGlyphs" style="font-kerning:none">-20%</text>
<text x="44.5" y="577.8" font-family='"Liberation Sans", sans-serif' font-size="16.2" fill="#595959" textLength="36.97" lengthAdjust="spacingAndGlyphs" style="font-kerning:none">-40%</text>
<text x="98.8" y="601.4" font-family='"Liberation Sans", sans-serif' font-size="16.2" fill="#595959" text-anchor="middle" style="font-kerning:none">0</text>
<text x="191.42" y="601.4" font-family='"Liberation Sans", sans-serif' font-size="16.2" fill="#595959" text-anchor="middle" style="font-kerning:none">1</text>
<text x="284.03" y="601.4" font-family='"Liberation Sans", sans-serif' font-size="16.2" fill="#595959" text-anchor="middle" style="font-kerning:none">2</text>
<text x="376.65" y="601.4" font-family='"Liberation Sans", sans-serif' font-size="16.2" fill="#595959" text-anchor="middle" style="font-kerning:none">3</text>
<text x="469.27" y="601.4" font-family='"Liberation Sans", sans-serif' font-size="16.2" fill="#595959" text-anchor="middle" style="font-kerning:none">4</text>
<text x="561.88" y="601.4" font-family='"Liberation Sans", sans-serif' font-size="16.2" fill="#595959" text-anchor="middle" style="font-kerning:none">5</text>
<text x="654.5" y="601.4" font-family='"Liberation Sans", sans-serif' font-size="16.2" fill="#595959" text-anchor="middle" style="font-kerning:none">6</text>
<text x="92.86" y="344.4" font-family='"Liberation Sans", sans-serif' font-size="21.4" fill="#4f4f4f" textLength="94.53" lengthAdjust="spacingAndGlyphs" style="font-kerning:none">Hänscheid</text>
<text x="191.6" y="344.4" font-family='"Liberation Sans", sans-serif' font-size="21.4" fill="#4f4f4f" textLength="132.57" lengthAdjust="spacingAndGlyphs" style="font-kerning:none">approximation</text>
<text x="328.83" y="344.4" font-family='"Liberation Sans", sans-serif' font-size="21.4" fill="#4f4f4f" textLength="25.71" lengthAdjust="spacingAndGlyphs" style="font-kerning:none">vs.</text>
<text x="358.23" y="344.4" font-family='"Liberation Sans", sans-serif' font-size="21.4" fill="#4f4f4f" textLength="76.05" lengthAdjust="spacingAndGlyphs" style="font-kerning:none">multiple</text>
<text x="438.96" y="344.4" font-family='"Liberation Sans", sans-serif' font-size="21.4" fill="#4f4f4f" textLength="42.23" lengthAdjust="spacingAndGlyphs" style="font-kerning:none">time</text>
<text x="485.8" y="344.4" font-family='"Liberation Sans", sans-serif' font-size="21.4" fill="#4f4f4f" textLength="47.16" lengthAdjust="spacingAndGlyphs" style="font-kerning:none">point</text>
<text x="538.91" y="344.4" font-family='"Liberation Sans", sans-serif' font-size="21.4" fill="#4f4f4f" textLength="91.93" lengthAdjust="spacingAndGlyphs" style="font-kerning:none">dosimetry</text>
<text x="256.58" y="622.8" font-family='"Liberation Sans", sans-serif' font-size="18.0" font-weight="bold" fill="#595959" textLength="67.35" lengthAdjust="spacingAndGlyphs" style="font-kerning:none">Average</text>
<text x="327.96" y="622.8" font-family='"Liberation Sans", sans-serif' font-size="18.0" font-weight="bold" fill="#595959" textLength="52.37" lengthAdjust="spacingAndGlyphs" style="font-kerning:none">kidney</text>
<text x="386.55" y="622.8" font-family='"Liberation Sans", sans-serif' font-size="18.0" font-weight="bold" fill="#595959" textLength="37" lengthAdjust="spacingAndGlyphs" style="font-kerning:none">dose</text>
<text x="428.82" y="622.8" font-family='"Liberation Sans", sans-serif' font-size="18.0" font-weight="bold" fill="#595959" textLength="34.44" lengthAdjust="spacingAndGlyphs" style="font-kerning:none">(Gy)</text>
<text transform="translate(37.8,590.1) rotate(-90)" x="-1.15" y="0" font-family='"Liberation Sans", sans-serif' font-size="18.0" font-weight="bold" fill="#595959" textLength="83.77" lengthAdjust="spacingAndGlyphs" style="font-kerning:none">Difference</text>
<text transform="translate(37.8,590.1) rotate(-90)" x="87.43" y="0" font-family='"Liberation Sans", sans-serif' font-size="18.0" font-weight="bold" fill="#595959" textLength="15.53" lengthAdjust="spacingAndGlyphs" style="font-kerning:none">in</text>
<text transform="translate(37.8,590.1) rotate(-90)" x="107.5" y="0" font-family='"Liberation Sans", sans-serif' font-size="18.0" font-weight="bold" fill="#595959" textLength="53.87" lengthAdjust="spacingAndGlyphs" style="font-kerning:none">kidney</text>
<text transform="translate(37.8,590.1) rotate(-90)" x="166.33" y="0" font-family='"Liberation Sans", sans-serif' font-size="18.0" font-weight="bold" fill="#595959" textLength="37.57" lengthAdjust="spacingAndGlyphs" style="font-kerning:none">dose</text>
<text transform="translate(37.8,590.1) rotate(-90)" x="208.32" y="0" font-family='"Liberation Sans", sans-serif' font-size="18.0" font-weight="bold" fill="#595959" textLength="26.22" lengthAdjust="spacingAndGlyphs" style="font-kerning:none">(%)</text>
<text x="3.65" y="340.8" font-family='"Liberation Sans", sans-serif' font-size="22.3" font-weight="bold" fill="#000" textLength="21.25" lengthAdjust="spacingAndGlyphs" style="font-kerning:none">B)</text>
<rect x="98.9" y="673" width="555.3" height="213.5" fill="url(#hatchDown)"/>
<line x1="98.9" y1="673" x2="654.2" y2="673" stroke="#d3d3d3" stroke-width="1.5"/>
<line x1="98.9" y1="726.38" x2="654.2" y2="726.38" stroke="#d3d3d3" stroke-width="1.5"/>
<line x1="98.9" y1="833.12" x2="654.2" y2="833.12" stroke="#d3d3d3" stroke-width="1.5"/>
<line x1="98.9" y1="886.5" x2="654.2" y2="886.5" stroke="#d3d3d3" stroke-width="1.5"/>
<line x1="191.45" y1="673" x2="191.45" y2="886.5" stroke="#d3d3d3" stroke-width="1.5"/>
<line x1="284" y1="673" x2="284" y2="886.5" stroke="#d3d3d3" stroke-width="1.5"/>
<line x1="376.55" y1="673" x2="376.55" y2="886.5" stroke="#d3d3d3" stroke-width="1.5"/>
<line x1="469.1" y1="673" x2="469.1" y2="886.5" stroke="#d3d3d3" stroke-width="1.5"/>
<line x1="561.65" y1="673" x2="561.65" y2="886.5" stroke="#d3d3d3" stroke-width="1.5"/>
<line x1="654.2" y1="673" x2="654.2" y2="886.5" stroke="#d3d3d3" stroke-width="1.5"/>
<line x1="98.9" y1="779.75" x2="654.2" y2="779.75" stroke="#bfbfbf" stroke-width="1.6"/>
<clipPath id="clipC"><rect x="98.5" y="653" width="557.8" height="253.5"/></clipPath>
<g clip-path="url(#clipC)">
<line x1="98.9" y1="740" x2="654.2" y2="740" stroke="#1f3864" stroke-width="3.2" stroke-dasharray="13.6 16.3" stroke-linecap="round"/>
<line x1="98.9" y1="830" x2="654.2" y2="830" stroke="#002060" stroke-width="3.2" stroke-dasharray="13.6 16.3" stroke-linecap="round"/>
<line x1="98.9" y1="784.9" x2="654.2" y2="784.9" stroke="#00ab47" stroke-width="3.6"/>
</g>
<line x1="98.9" y1="672.5" x2="98.9" y2="887" stroke="#b5b5b5" stroke-width="2"/>
<circle cx="322.9" cy="781.5" r="6.4" fill="#fff" stroke="#0b1a52" stroke-width="1.8"/>
<circle cx="290" cy="791" r="6.4" fill="#fff" stroke="#0b1a52" stroke-width="1.8"/>
<circle cx="338.8" cy="785.3" r="6.4" fill="#fff" stroke="#0b1a52" stroke-width="1.8"/>
<circle cx="349" cy="784" r="6.4" fill="#fff" stroke="#0b1a52" stroke-width="1.8"/>
<circle cx="376.5" cy="786" r="6.4" fill="#fff" stroke="#0b1a52" stroke-width="1.8"/>
<circle cx="394.2" cy="786.1" r="6.4" fill="#fff" stroke="#0b1a52" stroke-width="1.8"/>
<circle cx="354.4" cy="770.3" r="6.4" fill="#fff" stroke="#0b1a52" stroke-width="1.8"/>
<circle cx="366.7" cy="771.4" r="6.4" fill="#fff" stroke="#0b1a52" stroke-width="1.8"/>
<circle cx="369.7" cy="788.7" r="6.4" fill="#fff" stroke="#0b1a52" stroke-width="1.8"/>
<circle cx="232" cy="708.3" r="6.4" fill="#fff" stroke="#0b1a52" stroke-width="1.8"/>
<circle cx="226.1" cy="733.3" r="6.4" fill="#fff" stroke="#0b1a52" stroke-width="1.8"/>
<circle cx="249.9" cy="746.6" r="6.4" fill="#fff" stroke="#0b1a52" stroke-width="1.8"/>
<circle cx="236.4" cy="754.1" r="6.4" fill="#fff" stroke="#0b1a52" stroke-width="1.8"/>
<circle cx="261.1" cy="758.9" r="6.4" fill="#fff" stroke="#0b1a52" stroke-width="1.8"/>
<circle cx="258" cy="772.4" r="6.4" fill="#fff" stroke="#0b1a52" stroke-width="1.8"/>
<circle cx="249.9" cy="774.4" r="6.4" fill="#fff" stroke="#0b1a52" stroke-width="1.8"/>
<circle cx="243.7" cy="776.5" r="6.4" fill="#fff" stroke="#0b1a52" stroke-width="1.8"/>
<circle cx="237.1" cy="776.3" r="6.4" fill="#fff" stroke="#0b1a52" stroke-width="1.8"/>
<circle cx="268.8" cy="780" r="6.4" fill="#fff" stroke="#0b1a52" stroke-width="1.8"/>
<circle cx="278.5" cy="781.6" r="6.4" fill="#fff" stroke="#0b1a52" stroke-width="1.8"/>
<circle cx="222.8" cy="788.7" r="6.4" fill="#fff" stroke="#0b1a52" stroke-width="1.8"/>
<circle cx="247.8" cy="794.9" r="6.4" fill="#fff" stroke="#0b1a52" stroke-width="1.8"/>
<circle cx="242.7" cy="795.7" r="6.4" fill="#fff" stroke="#0b1a52" stroke-width="1.8"/>
<circle cx="266.2" cy="791.8" r="6.4" fill="#fff" stroke="#0b1a52" stroke-width="1.8"/>
<circle cx="269.3" cy="796.9" r="6.4" fill="#fff" stroke="#0b1a52" stroke-width="1.8"/>
<circle cx="270.3" cy="805.1" r="6.4" fill="#fff" stroke="#0b1a52" stroke-width="1.8"/>
<circle cx="277.4" cy="799" r="6.4" fill="#fff" stroke="#0b1a52" stroke-width="1.8"/>
<circle cx="220.2" cy="802.5" r="6.4" fill="#fff" stroke="#0b1a52" stroke-width="1.8"/>
<circle cx="216.1" cy="807.6" r="6.4" fill="#fff" stroke="#0b1a52" stroke-width="1.8"/>
<circle cx="223.8" cy="811.2" r="6.4" fill="#fff" stroke="#0b1a52" stroke-width="1.8"/>
<circle cx="222.3" cy="819.2" r="6.4" fill="#fff" stroke="#0b1a52" stroke-width="1.8"/>
<circle cx="253.9" cy="817.3" r="6.4" fill="#fff" stroke="#0b1a52" stroke-width="1.8"/>
<circle cx="270.5" cy="817.3" r="6.4" fill="#fff" stroke="#0b1a52" stroke-width="1.8"/>
<circle cx="235.5" cy="824.8" r="6.4" fill="#fff" stroke="#0b1a52" stroke-width="1.8"/>
<circle cx="276.4" cy="812.2" r="6.4" fill="#fff" stroke="#0b1a52" stroke-width="1.8"/>
<circle cx="266.2" cy="828.4" r="6.4" fill="#fff" stroke="#0b1a52" stroke-width="1.8"/>
<circle cx="273.9" cy="843.7" r="6.4" fill="#fff" stroke="#0b1a52" stroke-width="1.8"/>
<circle cx="314.8" cy="710.8" r="6.4" fill="#fff" stroke="#0b1a52" stroke-width="1.8"/>
<circle cx="279.7" cy="757.6" r="6.4" fill="#fff" stroke="#0b1a52" stroke-width="1.8"/>
<circle cx="338.5" cy="759.4" r="6.4" fill="#fff" stroke="#0b1a52" stroke-width="1.8"/>
<circle cx="292.5" cy="773.4" r="6.4" fill="#fff" stroke="#0b1a52" stroke-width="1.8"/>
<circle cx="302.7" cy="778" r="6.4" fill="#fff" stroke="#0b1a52" stroke-width="1.8"/>
<circle cx="310.9" cy="782.6" r="6.4" fill="#fff" stroke="#0b1a52" stroke-width="1.8"/>
<circle cx="331.3" cy="774.9" r="6.4" fill="#fff" stroke="#0b1a52" stroke-width="1.8"/>
<circle cx="339.5" cy="776.2" r="6.4" fill="#fff" stroke="#0b1a52" stroke-width="1.8"/>
<circle cx="284.3" cy="792.8" r="6.4" fill="#fff" stroke="#0b1a52" stroke-width="1.8"/>
<circle cx="336.4" cy="807.1" r="6.4" fill="#fff" stroke="#0b1a52" stroke-width="1.8"/>
<circle cx="336.4" cy="795.9" r="6.4" fill="#fff" stroke="#0b1a52" stroke-width="1.8"/>
<circle cx="280.7" cy="811.7" r="6.4" fill="#fff" stroke="#0b1a52" stroke-width="1.8"/>
<circle cx="289.9" cy="818.4" r="6.4" fill="#fff" stroke="#0b1a52" stroke-width="1.8"/>
<circle cx="326.2" cy="800" r="6.4" fill="#fff" stroke="#0b1a52" stroke-width="1.8"/>
<circle cx="299.6" cy="834" r="6.4" fill="#fff" stroke="#0b1a52" stroke-width="1.8"/>
<circle cx="332.3" cy="832.5" r="6.4" fill="#fff" stroke="#0b1a52" stroke-width="1.8"/>
<circle cx="334.4" cy="837.6" r="6.4" fill="#fff" stroke="#0b1a52" stroke-width="1.8"/>
<circle cx="369.9" cy="728.5" r="6.4" fill="#fff" stroke="#0b1a52" stroke-width="1.8"/>
<circle cx="358.3" cy="740" r="6.4" fill="#fff" stroke="#0b1a52" stroke-width="1.8"/>
<circle cx="343.2" cy="759.4" r="6.4" fill="#fff" stroke="#0b1a52" stroke-width="1.8"/>
<circle cx="396.8" cy="755.3" r="6.4" fill="#fff" stroke="#0b1a52" stroke-width="1.8"/>
<circle cx="377.9" cy="762.4" r="6.4" fill="#fff" stroke="#0b1a52" stroke-width="1.8"/>
<circle cx="386.1" cy="769.3" r="6.4" fill="#fff" stroke="#0b1a52" stroke-width="1.8"/>
<circle cx="400.4" cy="765.2" r="6.4" fill="#fff" stroke="#0b1a52" stroke-width="1.8"/>
<circle cx="352.9" cy="776.5" r="6.4" fill="#fff" stroke="#0b1a52" stroke-width="1.8"/>
<circle cx="365.7" cy="782.1" r="6.4" fill="#fff" stroke="#0b1a52" stroke-width="1.8"/>
<circle cx="361.6" cy="795.9" r="6.4" fill="#fff" stroke="#0b1a52" stroke-width="1.8"/>
<circle cx="396.3" cy="787.7" r="6.4" fill="#fff" stroke="#0b1a52" stroke-width="1.8"/>
<circle cx="401.4" cy="792.3" r="6.4" fill="#fff" stroke="#0b1a52" stroke-width="1.8"/>
<circle cx="344.2" cy="813.2" r="6.4" fill="#fff" stroke="#0b1a52" stroke-width="1.8"/>
<circle cx="370.8" cy="830.9" r="6.4" fill="#fff" stroke="#0b1a52" stroke-width="1.8"/>
<circle cx="409.9" cy="758.8" r="6.4" fill="#fff" stroke="#0b1a52" stroke-width="1.8"/>
<circle cx="407.6" cy="769.3" r="6.4" fill="#fff" stroke="#0b1a52" stroke-width="1.8"/>
<circle cx="430.6" cy="753.5" r="6.4" fill="#fff" stroke="#0b1a52" stroke-width="1.8"/>
<circle cx="429.8" cy="763.5" r="6.4" fill="#fff" stroke="#0b1a52" stroke-width="1.8"/>
<circle cx="426.3" cy="773.4" r="6.4" fill="#fff" stroke="#0b1a52" stroke-width="1.8"/>
<circle cx="424.5" cy="784.6" r="6.4" fill="#fff" stroke="#0b1a52" stroke-width="1.8"/>
<circle cx="424.5" cy="790.4" r="6.4" fill="#fff" stroke="#0b1a52" stroke-width="1.8"/>
<circle cx="435.6" cy="789.9" r="6.4" fill="#fff" stroke="#0b1a52" stroke-width="1.8"/>
<circle cx="407.6" cy="796.3" r="6.4" fill="#fff" stroke="#0b1a52" stroke-width="1.8"/>
<circle cx="419.3" cy="804.5" r="6.4" fill="#fff" stroke="#0b1a52" stroke-width="1.8"/>
<circle cx="411.1" cy="812.6" r="6.4" fill="#fff" stroke="#0b1a52" stroke-width="1.8"/>
<circle cx="467.7" cy="793.4" r="6.4" fill="#fff" stroke="#0b1a52" stroke-width="1.8"/>
<circle cx="453.7" cy="748.3" r="6.4" fill="#fff" stroke="#0b1a52" stroke-width="1.8"/>
<circle cx="460.7" cy="753" r="6.4" fill="#fff" stroke="#0b1a52" stroke-width="1.8"/>
<circle cx="478" cy="749.8" r="6.4" fill="#fff" stroke="#0b1a52" stroke-width="1.8"/>
<circle cx="447.3" cy="771.1" r="6.4" fill="#fff" stroke="#0b1a52" stroke-width="1.8"/>
<circle cx="445" cy="775.1" r="6.4" fill="#fff" stroke="#0b1a52" stroke-width="1.8"/>
<circle cx="458.4" cy="773.4" r="6.4" fill="#fff" stroke="#0b1a52" stroke-width="1.8"/>
<circle cx="465.4" cy="776.9" r="6.4" fill="#fff" stroke="#0b1a52" stroke-width="1.8"/>
<circle cx="475.9" cy="773.4" r="6.4" fill="#fff" stroke="#0b1a52" stroke-width="1.8"/>
<circle cx="564.3" cy="751.7" r="6.4" fill="#fff" stroke="#0b1a52" stroke-width="1.8"/>
<circle cx="487.5" cy="782.6" r="6.4" fill="#fff" stroke="#0b1a52" stroke-width="1.8"/>
<circle cx="500.7" cy="773.8" r="6.4" fill="#fff" stroke="#0b1a52" stroke-width="1.8"/>
<circle cx="503.6" cy="774.5" r="6.4" fill="#fff" stroke="#0b1a52" stroke-width="1.8"/>
<circle cx="508.7" cy="779.6" r="6.4" fill="#fff" stroke="#0b1a52" stroke-width="1.8"/>
<circle cx="510.9" cy="773.8" r="6.4" fill="#fff" stroke="#0b1a52" stroke-width="1.8"/>
<circle cx="543" cy="773.8" r="6.4" fill="#fff" stroke="#0b1a52" stroke-width="1.8"/>
<circle cx="549.6" cy="773.8" r="6.4" fill="#fff" stroke="#0b1a52" stroke-width="1.8"/>
<circle cx="552.5" cy="776.7" r="6.4" fill="#fff" stroke="#0b1a52" stroke-width="1.8"/>
<circle cx="561.1" cy="773.8" r="6.4" fill="#fff" stroke="#0b1a52" stroke-width="1.8"/>
<circle cx="618" cy="759.4" r="6.4" fill="#fff" stroke="#0b1a52" stroke-width="1.8"/>
<circle cx="518.4" cy="821.9" r="6.4" fill="#fff" stroke="#0b1a52" stroke-width="1.8"/>
<circle cx="540.5" cy="825.5" r="6.4" fill="#fff" stroke="#0b1a52" stroke-width="1.8"/>
<circle cx="430.7" cy="857.1" r="6.4" fill="#fff" stroke="#0b1a52" stroke-width="1.8"/>
<circle cx="282.3" cy="781.1" r="6.4" fill="#fff" stroke="#0b1a52" stroke-width="1.8"/>
<circle cx="298.6" cy="783.6" r="6.4" fill="#fff" stroke="#0b1a52" stroke-width="1.8"/>
<circle cx="315.5" cy="778.5" r="6.4" fill="#fff" stroke="#0b1a52" stroke-width="1.8"/>
<circle cx="325.7" cy="789.2" r="6.4" fill="#fff" stroke="#0b1a52" stroke-width="1.8"/>
<circle cx="310.4" cy="795.4" r="6.4" fill="#fff" stroke="#0b1a52" stroke-width="1.8"/>
<circle cx="281.2" cy="797.4" r="6.4" fill="#fff" stroke="#0b1a52" stroke-width="1.8"/>
<circle cx="295.5" cy="803.5" r="6.4" fill="#fff" stroke="#0b1a52" stroke-width="1.8"/>
<circle cx="325.2" cy="806.6" r="6.4" fill="#fff" stroke="#0b1a52" stroke-width="1.8"/>
<circle cx="297.1" cy="816.3" r="6.4" fill="#fff" stroke="#0b1a52" stroke-width="1.8"/>
<circle cx="333.9" cy="820.2" r="6.4" fill="#fff" stroke="#0b1a52" stroke-width="1.8"/>
<circle cx="384" cy="761.4" r="6.4" fill="#fff" stroke="#0b1a52" stroke-width="1.8"/>
<circle cx="359" cy="780.5" r="6.4" fill="#fff" stroke="#0b1a52" stroke-width="1.8"/>
<circle cx="377.9" cy="775.9" r="6.4" fill="#fff" stroke="#0b1a52" stroke-width="1.8"/>
<circle cx="386.1" cy="784.1" r="6.4" fill="#fff" stroke="#0b1a52" stroke-width="1.8"/>
<circle cx="401.9" cy="775.9" r="6.4" fill="#fff" stroke="#0b1a52" stroke-width="1.8"/>
<circle cx="345.2" cy="789.2" r="6.4" fill="#fff" stroke="#0b1a52" stroke-width="1.8"/>
<circle cx="356.5" cy="792.3" r="6.4" fill="#fff" stroke="#0b1a52" stroke-width="1.8"/>
<circle cx="347.8" cy="804" r="6.4" fill="#fff" stroke="#0b1a52" stroke-width="1.8"/>
<circle cx="363.6" cy="805.6" r="6.4" fill="#fff" stroke="#0b1a52" stroke-width="1.8"/>
<circle cx="380" cy="806.6" r="6.4" fill="#fff" stroke="#0b1a52" stroke-width="1.8"/>
<circle cx="375.9" cy="818.2" r="6.4" fill="#fff" stroke="#0b1a52" stroke-width="1.8"/>
<text x="50.34" y="678.3" font-family='"Liberation Sans", sans-serif' font-size="16.2" fill="#595959" textLength="31.21" lengthAdjust="spacingAndGlyphs" style="font-kerning:none">40%</text>
<text x="49.9" y="731.67" font-family='"Liberation Sans", sans-serif' font-size="16.2" fill="#595959" textLength="31.66" lengthAdjust="spacingAndGlyphs" style="font-kerning:none">20%</text>
<text x="59.2" y="785.05" font-family='"Liberation Sans", sans-serif' font-size="16.2" fill="#595959" textLength="22.36" lengthAdjust="spacingAndGlyphs" style="font-kerning:none">0%</text>
<text x="44.6" y="838.42" font-family='"Liberation Sans", sans-serif' font-size="16.2" fill="#595959" textLength="36.97" lengthAdjust="spacingAndGlyphs" style="font-kerning:none">-20%</text>
<text x="44.6" y="891.8" font-family='"Liberation Sans", sans-serif' font-size="16.2" fill="#595959" textLength="36.97" lengthAdjust="spacingAndGlyphs" style="font-kerning:none">-40%</text>
<text x="99.2" y="914.9" font-family='"Liberation Sans", sans-serif' font-size="16.2" fill="#595959" text-anchor="middle" style="font-kerning:none">0</text>
<text x="191.75" y="914.9" font-family='"Liberation Sans", sans-serif' font-size="16.2" fill="#595959" text-anchor="middle" style="font-kerning:none">1</text>
<text x="284.3" y="914.9" font-family='"Liberation Sans", sans-serif' font-size="16.2" fill="#595959" text-anchor="middle" style="font-kerning:none">2</text>
<text x="376.85" y="914.9" font-family='"Liberation Sans", sans-serif' font-size="16.2" fill="#595959" text-anchor="middle" style="font-kerning:none">3</text>
<text x="469.4" y="914.9" font-family='"Liberation Sans", sans-serif' font-size="16.2" fill="#595959" text-anchor="middle" style="font-kerning:none">4</text>
<text x="561.95" y="914.9" font-family='"Liberation Sans", sans-serif' font-size="16.2" fill="#595959" text-anchor="middle" style="font-kerning:none">5</text>
<text x="654.5" y="914.9" font-family='"Liberation Sans", sans-serif' font-size="16.2" fill="#595959" text-anchor="middle" style="font-kerning:none">6</text>
<text x="113.99" y="663.8" font-family='"Liberation Sans", sans-serif' font-size="21.4" fill="#4f4f4f" textLength="73.96" lengthAdjust="spacingAndGlyphs" style="font-kerning:none">Madsen</text>
<text x="191.8" y="663.8" font-family='"Liberation Sans", sans-serif' font-size="21.4" fill="#4f4f4f" textLength="132.57" lengthAdjust="spacingAndGlyphs" style="font-kerning:none">approximation</text>
<text x="329.03" y="663.8" font-family='"Liberation Sans", sans-serif' font-size="21.4" fill="#4f4f4f" textLength="25.71" lengthAdjust="spacingAndGlyphs" style="font-kerning:none">vs.</text>
<text x="358.43" y="663.8" font-family='"Liberation Sans", sans-serif' font-size="21.4" fill="#4f4f4f" textLength="76.05" lengthAdjust="spacingAndGlyphs" style="font-kerning:none">multiple</text>
<text x="439.16" y="663.8" font-family='"Liberation Sans", sans-serif' font-size="21.4" fill="#4f4f4f" textLength="42.23" lengthAdjust="spacingAndGlyphs" style="font-kerning:none">time</text>
<text x="486" y="663.8" font-family='"Liberation Sans", sans-serif' font-size="21.4" fill="#4f4f4f" textLength="47.16" lengthAdjust="spacingAndGlyphs" style="font-kerning:none">point</text>
<text x="539.11" y="663.8" font-family='"Liberation Sans", sans-serif' font-size="21.4" fill="#4f4f4f" textLength="91.43" lengthAdjust="spacingAndGlyphs" style="font-kerning:none">dosimetry</text>
<text x="252.78" y="937.8" font-family='"Liberation Sans", sans-serif' font-size="18.0" font-weight="bold" fill="#595959" textLength="67.35" lengthAdjust="spacingAndGlyphs" style="font-kerning:none">Average</text>
<text x="324.16" y="937.8" font-family='"Liberation Sans", sans-serif' font-size="18.0" font-weight="bold" fill="#595959" textLength="52.37" lengthAdjust="spacingAndGlyphs" style="font-kerning:none">kidney</text>
<text x="382.75" y="937.8" font-family='"Liberation Sans", sans-serif' font-size="18.0" font-weight="bold" fill="#595959" textLength="37" lengthAdjust="spacingAndGlyphs" style="font-kerning:none">dose</text>
<text x="425.02" y="937.8" font-family='"Liberation Sans", sans-serif' font-size="18.0" font-weight="bold" fill="#595959" textLength="34.44" lengthAdjust="spacingAndGlyphs" style="font-kerning:none">(Gy)</text>
<text transform="translate(37.6,907.4) rotate(-90)" x="-1.14" y="0" font-family='"Liberation Sans", sans-serif' font-size="18.0" font-weight="bold" fill="#595959" textLength="83.66" lengthAdjust="spacingAndGlyphs" style="font-kerning:none">Difference</text>
<text transform="translate(37.6,907.4) rotate(-90)" x="87.32" y="0" font-family='"Liberation Sans", sans-serif' font-size="18.0" font-weight="bold" fill="#595959" textLength="15.51" lengthAdjust="spacingAndGlyphs" style="font-kerning:none">in</text>
<text transform="translate(37.6,907.4) rotate(-90)" x="107.36" y="0" font-family='"Liberation Sans", sans-serif' font-size="18.0" font-weight="bold" fill="#595959" textLength="53.8" lengthAdjust="spacingAndGlyphs" style="font-kerning:none">kidney</text>
<text transform="translate(37.6,907.4) rotate(-90)" x="166.11" y="0" font-family='"Liberation Sans", sans-serif' font-size="18.0" font-weight="bold" fill="#595959" textLength="37.52" lengthAdjust="spacingAndGlyphs" style="font-kerning:none">dose</text>
<text transform="translate(37.6,907.4) rotate(-90)" x="208.05" y="0" font-family='"Liberation Sans", sans-serif' font-size="18.0" font-weight="bold" fill="#595959" textLength="26.19" lengthAdjust="spacingAndGlyphs" style="font-kerning:none">(%)</text>
<text x="6.2" y="656.6" font-family='"Liberation Sans", sans-serif' font-size="22.3" font-weight="bold" fill="#000" textLength="20.46" lengthAdjust="spacingAndGlyphs" style="font-kerning:none">C)</text>
<line x1="0" y1="0.8" x2="685" y2="0.8" stroke="#000" stroke-width="1.6"/>
<line x1="0" y1="313.85" x2="685" y2="313.85" stroke="#000" stroke-width="1.9"/>
<line x1="0.8" y1="0.0" x2="0.8" y2="314.8" stroke="#000" stroke-width="1.6"/>
<line x1="684.1" y1="0.0" x2="684.1" y2="314.8" stroke="#000" stroke-width="1.8"/>
<line x1="0" y1="317.45" x2="685" y2="317.45" stroke="#000" stroke-width="1.4"/>
<line x1="0" y1="630.4" x2="685" y2="630.4" stroke="#000" stroke-width="1.6"/>
<line x1="0.8" y1="316.75" x2="0.8" y2="631.1999999999999" stroke="#000" stroke-width="1.6"/>
<line x1="684.1" y1="316.75" x2="684.1" y2="631.1999999999999" stroke="#000" stroke-width="1.8"/>
<line x1="0" y1="634.1" x2="685" y2="634.1" stroke="#000" stroke-width="1.6"/>
<line x1="0" y1="947.0" x2="685" y2="947.0" stroke="#000" stroke-width="2.0"/>
<line x1="0.8" y1="633.3000000000001" x2="0.8" y2="948.0" stroke="#000" stroke-width="1.6"/>
<line x1="684.1" y1="633.3000000000001" x2="684.1" y2="948.0" stroke="#000" stroke-width="1.8"/>
</svg></body></html>
